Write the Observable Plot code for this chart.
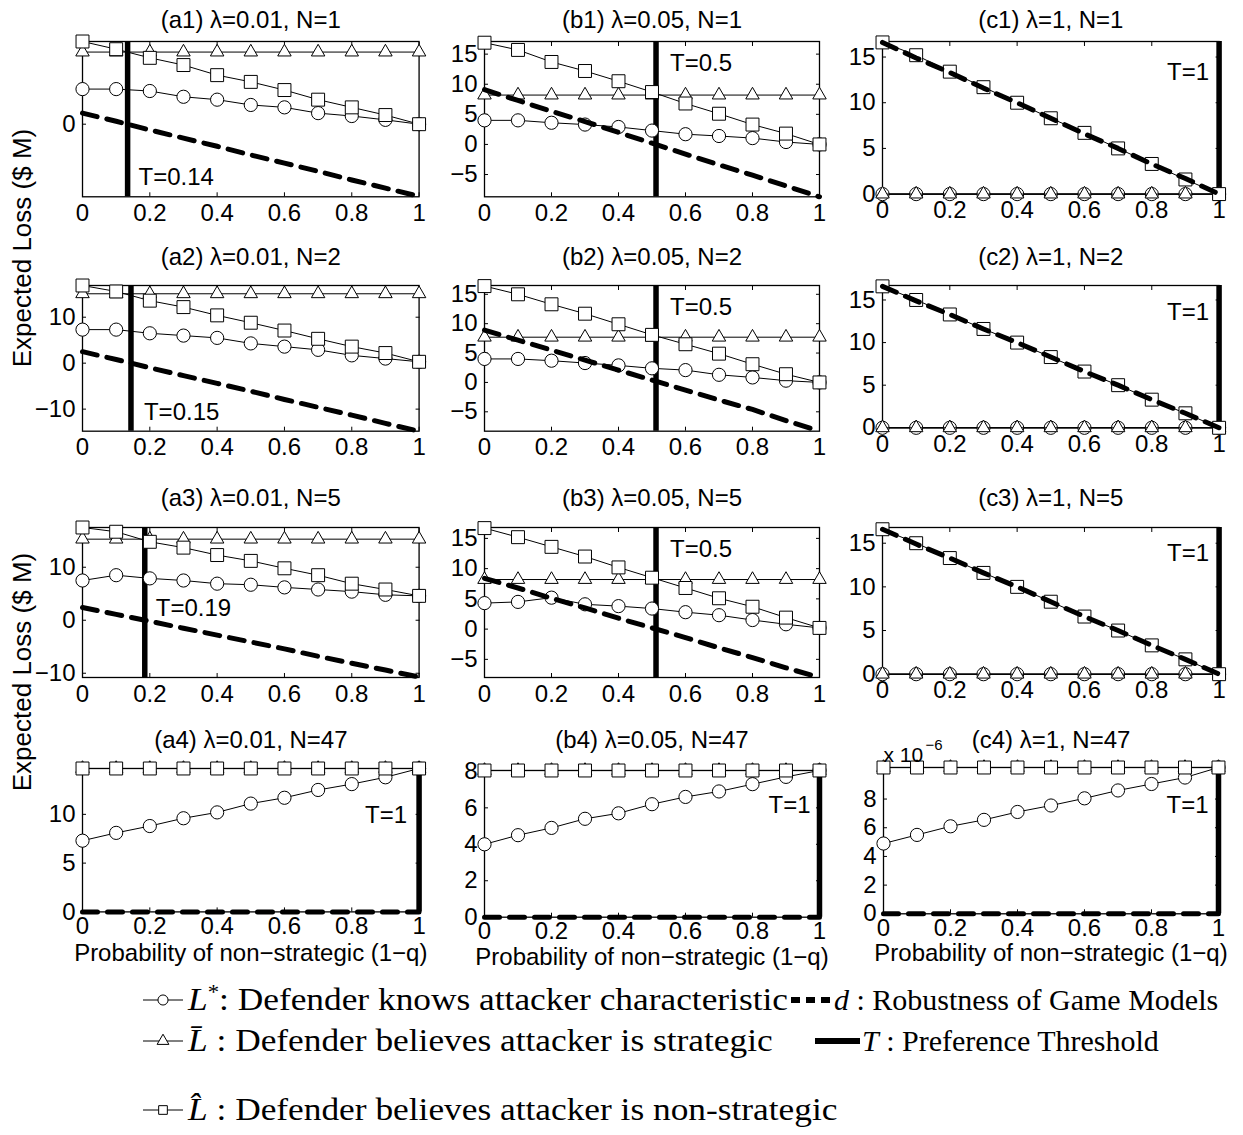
<!DOCTYPE html>
<html>
<head>
<meta charset="utf-8">
<script src="https://cdn.jsdelivr.net/npm/d3@7"></script>
<script src="https://cdn.jsdelivr.net/npm/@observablehq/plot@0.6"></script>
<style>
  body { margin: 0; background: #fff; }
  #chart { position: relative; width: 1243px; height: 1135px; overflow: hidden; background: #fff; }
  #chart svg { position: absolute; overflow: visible; }
</style>
</head>
<body>
<div id="chart"></div>
<script>
// ---------------- DATA ----------------
const q = [0, 0.1, 0.2, 0.3, 0.4, 0.5, 0.6, 0.7, 0.8, 0.9, 1];
const xTicks = [0, 0.2, 0.4, 0.6, 0.8, 1];

// (a1) lambda=0.01, N=1
const a1Lstar = [7.3, 7.3, 6.9, 5.7, 5.1, 4.0, 3.5, 2.3, 1.7, 0.9, 0];
const a1Lbar  = [15.0, 15.0, 15.0, 15.0, 15.0, 15.0, 15.0, 15.0, 15.0, 15.0, 15.0];
const a1Lhat  = [17.2, 15.6, 13.8, 12.3, 10.2, 8.8, 7.1, 5.1, 3.5, 1.9, 0];
const a1d     = [2.3, 0.6, -1.2, -2.9, -4.6, -6.4, -8.1, -9.8, -11.6, -13.3, -15.0];
const a1YDomain = [-15.1, 17.2];
const a1YTicks = [0];

// (a2) lambda=0.01, N=2
const a2Lstar = [7.3, 7.3, 6.5, 6.0, 5.5, 4.3, 3.6, 2.9, 1.7, 1.0, 0.3];
const a2Lbar  = [15.1, 15.1, 15.1, 15.1, 15.1, 15.1, 15.1, 15.1, 15.1, 15.1, 15.1];
const a2Lhat  = [16.9, 15.6, 13.6, 12.2, 10.4, 8.8, 7.1, 5.3, 3.6, 2.2, 0.3];
const a2d     = [2.5, 0.8, -1.0, -2.7, -4.4, -6.1, -7.9, -9.6, -11.3, -13.1, -14.8];
const a2YDomain = [-14.8, 16.9];
const a2YTicks = [-10, 0, 10];

// (a3) lambda=0.01, N=5
const a3Lstar = [7.5, 8.5, 7.9, 7.5, 6.9, 6.7, 6.2, 5.8, 5.4, 4.8, 4.6];
const a3Lbar  = [15.3, 15.3, 15.3, 15.3, 15.3, 15.3, 15.3, 15.3, 15.3, 15.3, 15.3];
const a3Lhat  = [17.5, 16.7, 14.8, 13.7, 12.3, 11.2, 9.8, 8.5, 6.9, 5.8, 4.6];
const a3d     = [2.4, 1.1, -0.2, -1.5, -2.8, -4.1, -5.4, -6.8, -8.1, -9.4, -10.7];
const a3YDomain = [-10.8, 17.5];
const a3YTicks = [-10, 0, 10];

// (a4) lambda=0.01, N=47
const a4Lstar = [7.3, 8.1, 8.8, 9.6, 10.2, 11.1, 11.7, 12.5, 13.1, 13.8, 14.7];
const a4Lbar  = [14.7, 14.7, 14.7, 14.7, 14.7, 14.7, 14.7, 14.7, 14.7, 14.7, 14.7];
const a4Lhat  = [14.7, 14.7, 14.7, 14.7, 14.7, 14.7, 14.7, 14.7, 14.7, 14.7, 14.7];
const a4d     = [0, 0, 0, 0, 0, 0, 0, 0, 0, 0, 0];
const a4YDomain = [0, 14.7];
const a4YTicks = [0, 5, 10];

// (b1) lambda=0.05, N=1
const b1Lstar = [4.0, 4.0, 3.6, 3.3, 2.9, 2.3, 1.7, 1.4, 1.05, 0.4, 0];
const b1Lbar  = [8.2, 8.2, 8.2, 8.2, 8.2, 8.2, 8.2, 8.2, 8.2, 8.2, 8.2];
const b1Lhat  = [16.9, 15.7, 13.7, 12.2, 10.5, 8.7, 6.8, 5.1, 3.3, 1.8, 0];
const b1d     = [9.1, 7.3, 5.5, 3.8, 2.0, 0.2, -1.6, -3.4, -5.1, -6.9, -8.7];
const b1YDomain = [-8.7, 17.1];
const b1YTicks = [-5, 0, 5, 10, 15];

// (b2) lambda=0.05, N=2
const b2Lstar = [4.0, 4.0, 3.7, 3.3, 2.9, 2.4, 2.1, 1.3, 0.85, 0.3, 0];
const b2Lbar  = [7.7, 7.7, 7.7, 7.7, 7.7, 7.7, 7.7, 7.7, 7.7, 7.7, 7.7];
const b2Lhat  = [16.4, 15.0, 13.3, 11.7, 9.9, 8.1, 6.5, 4.9, 3.1, 1.4, 0];
const b2d     = [8.9, 7.2, 5.5, 3.8, 2.1, 0.4, -1.3, -3.0, -4.6, -6.5, -8.3];
const b2YDomain = [-8.3, 16.5];
const b2YTicks = [-5, 0, 5, 10, 15];

// (b3) lambda=0.05, N=5
const b3Lstar = [4.3, 4.5, 5.2, 4.1, 3.8, 3.4, 2.8, 2.3, 1.5, 0.8, 0.2];
const b3Lbar  = [8.2, 8.2, 8.2, 8.2, 8.2, 8.2, 8.2, 8.2, 8.2, 8.2, 8.2];
const b3Lhat  = [16.7, 15.2, 13.6, 12.0, 10.2, 8.5, 6.8, 5.1, 3.7, 1.9, 0.2];
const b3d     = [8.4, 6.8, 5.1, 3.5, 1.8, 0.2, -1.4, -3.1, -4.7, -6.4, -8.0];
const b3YDomain = [-8.0, 16.8];
const b3YTicks = [-5, 0, 5, 10, 15];

// (b4) lambda=0.05, N=47
const b4Lstar = [4.0, 4.5, 4.9, 5.4, 5.7, 6.2, 6.6, 6.9, 7.3, 7.7, 8.05];
const b4Lbar  = [8.05, 8.05, 8.05, 8.05, 8.05, 8.05, 8.05, 8.05, 8.05, 8.05, 8.05];
const b4Lhat  = [8.05, 8.05, 8.05, 8.05, 8.05, 8.05, 8.05, 8.05, 8.05, 8.05, 8.05];
const b4d     = [0, 0, 0, 0, 0, 0, 0, 0, 0, 0, 0];
const b4YDomain = [0, 8.05];
const b4YTicks = [0, 2, 4, 6, 8];

// (c1) lambda=1, N=1
const c1Lstar = [0, 0, 0, 0, 0, 0, 0, 0, 0, 0, 0];
const c1Lbar  = [0, 0, 0, 0, 0, 0, 0, 0, 0, 0, 0];
const c1Lhat  = [16.6, 15.2, 13.4, 11.7, 10.0, 8.3, 6.7, 5.0, 3.3, 1.6, 0];
const c1d     = [16.6, 14.9, 13.3, 11.6, 10.0, 8.3, 6.6, 5.0, 3.3, 1.7, 0];
const c1YDomain = [0, 16.7];
const c1YTicks = [0, 5, 10, 15];

// (c2) lambda=1, N=2
const c2Lstar = [0, 0, 0, 0, 0, 0, 0, 0, 0, 0, 0];
const c2Lbar  = [0, 0, 0, 0, 0, 0, 0, 0, 0, 0, 0];
const c2Lhat  = [16.6, 15.0, 13.3, 11.6, 10.0, 8.3, 6.6, 5.0, 3.3, 1.7, 0];
const c2d     = [16.6, 14.9, 13.3, 11.6, 10.0, 8.3, 6.6, 5.0, 3.3, 1.7, 0];
const c2YDomain = [0, 16.7];
const c2YTicks = [0, 5, 10, 15];

// (c3) lambda=1, N=5
const c3Lstar = [0, 0, 0, 0, 0, 0, 0, 0, 0, 0, 0];
const c3Lbar  = [0, 0, 0, 0, 0, 0, 0, 0, 0, 0, 0];
const c3Lhat  = [16.6, 15.0, 13.3, 11.6, 10.0, 8.3, 6.6, 5.0, 3.3, 1.7, 0];
const c3d     = [16.6, 14.9, 13.3, 11.6, 10.0, 8.3, 6.6, 5.0, 3.3, 1.7, 0];
const c3YDomain = [0, 16.8];
const c3YTicks = [0, 5, 10, 15];

// (c4) lambda=1, N=47  (values in units of 1e-6)
const c4Lstar = [4.9, 5.5, 6.1, 6.55, 7.1, 7.55, 8.05, 8.6, 9.05, 9.5, 10.2];
const c4Lbar  = [10.2, 10.2, 10.2, 10.2, 10.2, 10.2, 10.2, 10.2, 10.2, 10.2, 10.2];
const c4Lhat  = [10.2, 10.2, 10.2, 10.2, 10.2, 10.2, 10.2, 10.2, 10.2, 10.2, 10.2];
const c4d     = [0, 0, 0, 0, 0, 0, 0, 0, 0, 0, 0];
const c4YDomain = [0, 10.2];
const c4YTicks = [0, 2, 4, 6, 8];

// Preference thresholds (line position and printed label)
const thresholdPos   = {a1: 0.134, a2: 0.144, a3: 0.185, a4: 1, b1: 0.512, b2: 0.512, b3: 0.512, b4: 1, c1: 1, c2: 1, c3: 1, c4: 1};
const thresholdLabel = {a1: "T=0.14", a2: "T=0.15", a3: "T=0.19", a4: "T=1", b1: "T=0.5", b2: "T=0.5", b3: "T=0.5", b4: "T=1", c1: "T=1", c2: "T=1", c3: "T=1", c4: "T=1"};

const lambdas = {a: "0.01", b: "0.05", c: "1"};
const Ns = ["1", "2", "5", "47"];

const xLabel = "Probability of non\u2212strategic (1\u2212q)";
const yLabel = "Expected Loss ($ M)";

const legendItems = [
  {key: "Lstar", base: "L", sup: "*", desc: ": Defender knows attacker characteristic"},
  {key: "Lbar",  base: "L\u0304", sup: "", desc: " : Defender believes attacker is strategic"},
  {key: "Lhat",  base: "L\u0302", sup: "", desc: " : Defender believes attacker is non-strategic"},
  {key: "d",     base: "d", sup: "", desc: " : Robustness of Game Models"},
  {key: "T",     base: "T", sup: "", desc: " : Preference Threshold"}
];

// ---------------- LAYOUT ----------------
const frames = {
  a1: [81.7, 418.3, 40.7, 196],   b1: [484.3, 819.3, 40.7, 196],   c1: [881.7, 1218.3, 40.7, 193.3],
  a2: [81.7, 418.3, 285, 430.7],  b2: [484.3, 819.3, 285, 430.7],  c2: [881.7, 1218.3, 285, 427.3],
  a3: [81.7, 418.3, 526.7, 676.7],b3: [484.3, 819.3, 526.7, 676.7],c3: [881.7, 1218.3, 527.3, 674],
  a4: [81.7, 418.3, 768.3, 911.7],b4: [484.3, 819.3, 770, 916.7],  c4: [882.7, 1217.7, 766.7, 913]
};
const titleY = [20, 257, 498, 740];
const xLabelY = {a4: 953, b4: 957, c4: 953};
const tPlace = {
  a1: {anchor: "start", dx: 11, frame: "bottom", dy: -19},
  a2: {anchor: "start", dx: 13, frame: "bottom", dy: -19},
  a3: {anchor: "start", dx: 11, frame: "top", dy: 81},
  b1: {anchor: "start", dx: 14, frame: "top", dy: 22},
  b2: {anchor: "start", dx: 14, frame: "top", dy: 22},
  b3: {anchor: "start", dx: 14, frame: "top", dy: 22},
  c1: {anchor: "end", dx: -10, frame: "top", dy: 31},
  c2: {anchor: "end", dx: -10, frame: "top", dy: 27},
  c3: {anchor: "end", dx: -10, frame: "top", dy: 26},
  a4: {anchor: "end", dx: -12, frame: "top", dy: 47},
  b4: {anchor: "end", dx: -9, frame: "top", dy: 35},
  c4: {anchor: "end", dx: -10, frame: "top", dy: 38}
};

const panelData = {
  a1: [a1Lstar, a1Lbar, a1Lhat, a1d, a1YDomain, a1YTicks],
  a2: [a2Lstar, a2Lbar, a2Lhat, a2d, a2YDomain, a2YTicks],
  a3: [a3Lstar, a3Lbar, a3Lhat, a3d, a3YDomain, a3YTicks],
  a4: [a4Lstar, a4Lbar, a4Lhat, a4d, a4YDomain, a4YTicks],
  b1: [b1Lstar, b1Lbar, b1Lhat, b1d, b1YDomain, b1YTicks],
  b2: [b2Lstar, b2Lbar, b2Lhat, b2d, b2YDomain, b2YTicks],
  b3: [b3Lstar, b3Lbar, b3Lhat, b3d, b3YDomain, b3YTicks],
  b4: [b4Lstar, b4Lbar, b4Lhat, b4d, b4YDomain, b4YTicks],
  c1: [c1Lstar, c1Lbar, c1Lhat, c1d, c1YDomain, c1YTicks],
  c2: [c2Lstar, c2Lbar, c2Lhat, c2d, c2YDomain, c2YTicks],
  c3: [c3Lstar, c3Lbar, c3Lhat, c3d, c3YDomain, c3YTicks],
  c4: [c4Lstar, c4Lbar, c4Lhat, c4d, c4YDomain, c4YTicks]
};

const chart = document.getElementById("chart");
const fmt = v => (v < 0 ? "\u2212" : "") + Math.abs(v);
const SANS = "'Liberation Sans', Arial, Helvetica, sans-serif";

function drawPanel(id) {
  const col = id[0];
  const row = +id[1] - 1;
  const [Lstar, Lbar, Lhat, d, yDomain, yTicks] = panelData[id];
  const [x0, x1, y0, y1] = frames[id];
  const mL = 70, mR = 30, mT = 50, mB = row === 3 ? 60 : 40;
  const W = x1 - x0 + mL + mR, H = y1 - y0 + mT + mB;
  const rows = q.map((x, i) => ({x, Lstar: Lstar[i], Lbar: Lbar[i], Lhat: Lhat[i], d: d[i]}));
  const T = thresholdPos[id];
  const tp = tPlace[id];
  const lineOpts = {x: "x", stroke: "black", strokeWidth: 1};
  const dotOpts = {x: "x", fill: "white", stroke: "black", strokeWidth: 1};
  const marks = [
    Plot.frame({stroke: "black", strokeWidth: 1.3}),
    Plot.axisX(xTicks, {anchor: "bottom", tickSize: -4, fill: "none", stroke: "black", label: null}),
    Plot.axisX(xTicks, {anchor: "top", tickSize: -4, fill: "none", stroke: "black", label: null}),
    Plot.axisX(xTicks, {anchor: "bottom", tickSize: 0, tickPadding: row === 3 ? 5 : 7, tickFormat: fmt, fill: "black", label: null}),
    Plot.axisY(yTicks, {anchor: "left", tickSize: -4, fill: "none", stroke: "black", label: null}),
    Plot.axisY(yTicks, {anchor: "right", tickSize: -4, fill: "none", stroke: "black", label: null}),
    Plot.axisY(yTicks, {anchor: "left", tickSize: 0, tickPadding: 7, tickFormat: fmt, fill: "black", label: null}),
    Plot.ruleX([T], {x: v => v, stroke: "black", strokeWidth: 5.5}),
    Plot.line(rows, {...lineOpts, y: "Lstar"}),
    Plot.dot(rows, {...dotOpts, y: "Lstar", symbol: "circle", r: 6.6}),
    Plot.line(rows, {...lineOpts, y: "Lbar"}),
    Plot.dot(rows, {...dotOpts, y: "Lbar", symbol: "triangle", r: 5.0}),
    Plot.line(rows, {...lineOpts, y: "Lhat"}),
    Plot.dot(rows, {...dotOpts, y: "Lhat", symbol: "square", r: 7.3}),
    Plot.line(rows, {x: "x", y: "d", stroke: "black", strokeWidth: 5, strokeDasharray: "15,10"}),
    Plot.text([thresholdLabel[id]], {x: () => T, text: v => v, frameAnchor: tp.frame, dx: tp.dx, dy: tp.dy,
      textAnchor: tp.anchor, lineAnchor: "middle", fill: "black"}),
    Plot.text([`(${id}) \u03bb=${lambdas[col]}, N=${Ns[row]}`], {text: v => v, frameAnchor: "top",
      dy: titleY[row] - y0, lineAnchor: "middle", fill: "black"})
  ];
  if (row === 3) {
    marks.push(Plot.text([xLabel], {text: v => v, frameAnchor: "bottom", dy: xLabelY[id] - y1, lineAnchor: "middle",
      fill: "black", fontSize: 24}));
  }
  if (id === "c4") {
    marks.push(Plot.text(["x 10"], {text: v => v, frameAnchor: "top-left", textAnchor: "start", dx: 0, dy: -12,
      lineAnchor: "middle", fill: "black", fontSize: 21}));
    marks.push(Plot.text(["\u22126"], {text: v => v, frameAnchor: "top-left", textAnchor: "start", dx: 42, dy: -22,
      lineAnchor: "middle", fill: "black", fontSize: 15}));
  }
  const svg = Plot.plot({
    width: W, height: H,
    marginLeft: mL, marginRight: mR, marginTop: mT, marginBottom: mB,
    x: {domain: [0, 1]},
    y: {domain: yDomain},
    style: {fontFamily: SANS, fontSize: "24px", background: "transparent", overflow: "visible", color: "black"},
    marks
  });
  svg.style.position = "absolute";
  svg.style.left = (x0 - mL) + "px";
  svg.style.top = (y0 - mT) + "px";
  chart.appendChild(svg);
}

["a1","b1","c1","a2","b2","c2","a3","b3","c3","a4","b4","c4"].forEach(drawPanel);

// -------- overlay: y labels and legend --------
const overlay = d3.select(chart).append("svg")
  .attr("width", 1243).attr("height", 1135)
  .style("left", "0px").style("top", "0px").style("pointer-events", "none");

[248, 672].forEach(cy => {
  overlay.append("text")
    .attr("transform", `translate(22,${cy}) rotate(-90)`)
    .attr("text-anchor", "middle").attr("dominant-baseline", "central")
    .attr("font-family", SANS).attr("font-size", 26).attr("fill", "black")
    .text(yLabel);
});

const legendPlace = {
  Lstar: {x: 143, w: 40, y: 1000, tx: 188, sx: 1.14, fs: 31},
  Lbar:  {x: 143, w: 40, y: 1041, tx: 188, sx: 1.14, fs: 31},
  Lhat:  {x: 143, w: 40, y: 1110, tx: 188, sx: 1.14, fs: 31},
  d:     {x: 791, w: 40, y: 1000, tx: 834, sx: 1.0, fs: 30},
  T:     {x: 815, w: 45, y: 1041, tx: 862, sx: 1.0, fs: 30}
};
const SERIF = "'Liberation Serif', 'Times New Roman', serif";
legendItems.forEach(item => {
  const p = legendPlace[item.key];
  const g = overlay.append("g");
  if (item.key === "d") {
    g.append("line").attr("x1", p.x).attr("x2", p.x + p.w).attr("y1", p.y).attr("y2", p.y)
      .attr("stroke", "black").attr("stroke-width", 6).attr("stroke-dasharray", "9,6");
  } else if (item.key === "T") {
    g.append("line").attr("x1", p.x).attr("x2", p.x + p.w).attr("y1", p.y).attr("y2", p.y)
      .attr("stroke", "black").attr("stroke-width", 6);
  } else {
    g.append("line").attr("x1", p.x).attr("x2", p.x + p.w).attr("y1", p.y).attr("y2", p.y)
      .attr("stroke", "black").attr("stroke-width", 1);
    const cx = p.x + p.w / 2;
    const sym = item.key === "Lstar" ? d3.symbolCircle : item.key === "Lbar" ? d3.symbolTriangle : d3.symbolSquare;
    const size = item.key === "Lbar" ? 60 : item.key === "Lstar" ? 80 : 75;
    g.append("path").attr("d", d3.symbol(sym, size)()).attr("transform", `translate(${cx},${p.y})`)
      .attr("fill", "white").attr("stroke", "black").attr("stroke-width", 1);
  }
  const t = g.append("text")
    .attr("transform", `translate(${p.tx},${p.y + 10}) scale(${p.sx},1)`)
    .attr("font-family", SERIF).attr("font-size", p.fs).attr("fill", "black");
  t.append("tspan").attr("font-style", "italic").text(item.base);
  if (item.sup) t.append("tspan").attr("dy", -11).attr("font-size", 20).text(item.sup);
  t.append("tspan").attr("dy", item.sup ? 11 : 0).text(item.desc);
});
</script>
</body>
</html>
